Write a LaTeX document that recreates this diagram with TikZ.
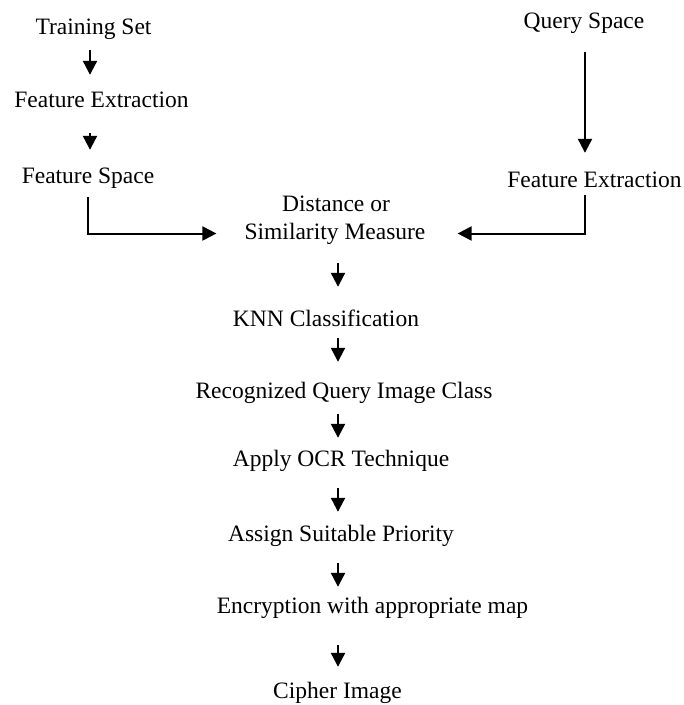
\documentclass[tikz,border=0pt]{standalone}
\usepackage{fontspec}
\setmainfont{Liberation Serif}
\usetikzlibrary{arrows.meta,calc}
\begin{document}
\begin{tikzpicture}[x=1pt,y=-1pt,
  lbl/.style={anchor=base,inner sep=0pt,text height=16pt,text depth=5pt,
    font=\fontsize{23.5}{28}\selectfont},
  arr/.style={line width=2.2pt,-{Triangle[width=14pt,length=14pt]}},
  conn/.style={line width=2pt,-{Triangle[width=14pt,length=14pt]}}]
\useasboundingbox (0,0) rectangle (684,705);
\fill[white] (0,0) rectangle (684,705);
% left column
\node[lbl] (ts)  at (93.5,34)  {Training Set};
\node[lbl] (fe1) at (101.5,107) {Feature Extraction};
\node[lbl] (fs)  at (88,183)   {Feature Space};
% right column
\node[lbl] (qs)  at (584,28)   {Query Space};
\node[lbl] (fe2) at (594.5,187) {Feature Extraction};
% main column
\node[lbl] (dist) at (336,211) {Distance or};
\node[lbl] (sim)  at (335,239) {Similarity Measure};
\node[lbl] (knn)  at (326,326) {KNN Classification};
\node[lbl] (rec)  at (344,398) {Recognized Query Image Class};
\node[lbl] (ocr)  at (341,466) {Apply OCR Technique};
\node[lbl] (asg)  at (341,541) {Assign Suitable Priority};
\node[lbl] (enc)  at (372.5,613) {Encryption with appropriate map};
\node[lbl] (cip)  at (337.5,698) {Cipher Image};
% axis coordinates
\coordinate (axL) at (90,0);
\coordinate (vL)  at (88,0);
\coordinate (vR)  at (585,0);
\coordinate (axM) at (338,0);
% left arrows
\draw[arr] ([yshift=-11pt]ts.south -| axL) -- ([yshift=16pt]fe1.north -| axL);
\draw[arr] ([yshift=-21pt]fe1.south -| axL) -- ([yshift=17pt]fs.north -| axL);
% right arrow
\draw[arr] ([yshift=-19pt]qs.south -| vR) -- ([yshift=18pt]fe2.north -| vR);
% connectors into measure
\draw[conn] ([yshift=-9pt]fs.south -| vL) |- ([xshift=-28pt]sim.west);
\draw[conn] ([yshift=-3pt]fe2.south -| vR) |- ([xshift=32pt]sim.east);
% main column arrows
\draw[arr] ([yshift=-19pt]sim.south -| axM) -- ([yshift=23pt]knn.north -| axM);
\draw[arr] ([yshift=-7pt]knn.south -| axM) -- ([yshift=20pt]rec.north -| axM);
\draw[arr] ([yshift=-11pt]rec.south -| axM) -- ([yshift=12pt]ocr.north -| axM);
\draw[arr] ([yshift=-17pt]ocr.south -| axM) -- ([yshift=13pt]asg.north -| axM);
\draw[arr] ([yshift=-17pt]asg.south -| axM) -- ([yshift=10pt]enc.north -| axM);
\draw[arr] ([yshift=-27pt]enc.south -| axM) -- ([yshift=15pt]cip.north -| axM);
\end{tikzpicture}
\end{document}
